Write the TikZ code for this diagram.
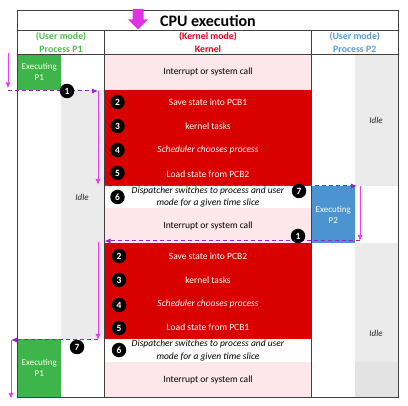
\documentclass[tikz,border=0pt]{standalone}
\usepackage{fontspec}
\setmainfont{Carlito}
\usetikzlibrary{arrows.meta}

\definecolor{kred}{HTML}{D90000}
\definecolor{kpink}{HTML}{FDE7EA}
\definecolor{pgreen}{HTML}{3DB54A}
\definecolor{pblue}{HTML}{4B93D1}
\definecolor{idlegrey}{HTML}{EBEBEB}
\definecolor{idledark}{HTML}{E3E3E3}
\definecolor{hgreen}{HTML}{4CC04C}
\definecolor{hred}{HTML}{E8001C}
\definecolor{hblue}{HTML}{5B9BD5}
\definecolor{amag}{HTML}{F03CF0}
\definecolor{dpurple}{HTML}{9A22C2}
\definecolor{gridc}{HTML}{404040}

\begin{document}
\begin{tikzpicture}[x=1pt,y=-1pt,
    every node/.style={font=\fontsize{9.5}{12.3}\selectfont,inner sep=0pt,align=center},
    head/.style={font=\bfseries\fontsize{9.8}{12.3}\selectfont},
    ktext/.style={text=white},
    exec/.style={text=white!90!yellow,font=\fontsize{9}{10.5}\selectfont},
    idle/.style={font=\itshape\fontsize{9}{10}\selectfont,text=black!85},
    numdot/.style={circle,fill=black,text=white,minimum size=14.5pt,
        font=\bfseries\fontsize{9.5}{9.5}\selectfont},
    flow/.style={amag,line width=1pt,-{Latex[length=6pt,width=5pt]}},
    hop/.style={dpurple,line width=1pt,dash pattern=on 4pt off 3pt,
        -{Latex[length=6pt,width=5pt]}}]

\useasboundingbox (0,0) rectangle (408,406);

% kernel column
\fill[kpink] (104.5,54) rectangle (311.5,90);
\fill[kred] (104.5,90) rectangle (311.5,186);
\fill[kpink] (104.5,208) rectangle (311.5,243);
\fill[kred] (104.5,243) rectangle (311.5,339);
\fill[kpink] (104.5,362) rectangle (311.5,397);
% process columns
\fill[idlegrey] (61,90) rectangle (104.5,339);
\fill[idlegrey] (355,54) rectangle (398,186);
\fill[idlegrey] (355,243) rectangle (398,362);
\fill[idledark] (355,362) rectangle (398,397);
\fill[pgreen] (17.5,54) rectangle (61,90);
\fill[pgreen] (17.5,339) rectangle (61,397);
\fill[pblue] (311.5,186) rectangle (355,243);

% grid
\draw[gridc,line width=0.8pt] (17.5,10) rectangle (398,397);
\draw[gridc,line width=0.8pt] (17.5,30) -- (398,30) (17.5,54) -- (398,54)
    (104.5,30) -- (104.5,397) (311.5,30) -- (311.5,397);

% title
\fill[amag!85!violet] (132.5,9) -- (143.5,9) -- (143.5,19.5) -- (148,19.5)
    -- (138,29.5) -- (128,19.5) -- (132.5,19.5) -- cycle;
\node (title) at (208,20.5) {\bfseries\fontsize{16}{16}\selectfont CPU execution};
\node[head,text=hgreen] (hp1) at (61,42.5) {(User mode)\\Process P1};
\node[head,text=hred] (hkern) at (208,42.5) {(Kernel mode)\\Kernel};
\node[head,text=hblue] (hp2) at (354.75,42.5) {(User mode)\\Process P2};

% process cells
\node[exec] (execA) at (39.25,72) {Executing\\P1};
\node[exec] (execB) at (333.25,215) {Executing\\P2};
\node[exec] (execC) at (39.25,368) {Executing\\P1};
\node[idle] (idleA) at (82,197) {Idle};
\node[idle] (idleB) at (376,120) {Idle};
\node[idle] (idleC) at (376,333) {Idle};

% kernel cells
\node (intA) at (208,72) {Interrupt or system call};
\node[ktext] (saveA) at (208,102) {Save state into PCB1};
\node[ktext] (taskA) at (208,126) {kernel tasks};
\node[ktext] (schedA) at (208,150) {\itshape Scheduler chooses process};
\node[ktext] (loadA) at (208,174) {Load state from PCB2};
\node (dispA) at (208,197) {\itshape Dispatcher switches to process and user\\\itshape mode for a given time slice};
\node (intB) at (208,225.5) {Interrupt or system call};
\node[ktext] (saveB) at (208,256) {Save state into PCB2};
\node[ktext] (taskB) at (208,280) {kernel tasks};
\node[ktext] (schedB) at (208,304) {\itshape Scheduler chooses process};
\node[ktext] (loadB) at (208,327) {Load state from PCB1};
\node (dispB) at (208,350.5) {\itshape Dispatcher switches to process and user\\\itshape mode for a given time slice};
\node (intC) at (208,379.5) {Interrupt or system call};

% control flow
\coordinate (runA) at (8,53);
\coordinate (trapA) at (8,91);
\coordinate (enterA) at (98,91);
\coordinate (leaveA) at (98,185);
\coordinate (kA) at (104.5,186);
\coordinate (startB) at (360,186);
\coordinate (trapB) at (360,241);
\coordinate (kB) at (104.5,241);
\coordinate (enterB) at (98,242);
\coordinate (leaveB) at (98,340);
\coordinate (startC) at (11,340);
\coordinate (runC) at (11,399);
\draw[flow] (runA) -- (8,88.5);
\draw[hop] (trapA) -- (enterA);
\draw[flow] (enterA) -- (leaveA);
\draw[hop] (kA) -- (357,186);
\draw[flow] (startB) -- (trapB);
\draw[hop] (trapB) -- (kB);
\draw[flow] (enterB) -- (leaveB);
\draw[hop] (leaveB) -- (startC);
\draw[flow] (startC) -- (runC);

% steps
\node[numdot] (oneA) at (67,91) {1};
\node[numdot] (twoA) at (117.5,102) {2};
\node[numdot] (threeA) at (117.5,126) {3};
\node[numdot] (fourA) at (117.5,150) {4};
\node[numdot] (fiveA) at (117.5,173) {5};
\node[numdot] (sixA) at (117.5,197) {6};
\node[numdot] (sevenA) at (299,191) {7};
\node[numdot] (oneB) at (298,236) {1};
\node[numdot] (twoB) at (119,256) {2};
\node[numdot] (threeB) at (119,280) {3};
\node[numdot] (fourB) at (119,305) {4};
\node[numdot] (fiveB) at (119,328) {5};
\node[numdot] (sixB) at (119,350) {6};
\node[numdot] (sevenB) at (77,347) {7};

\end{tikzpicture}
\end{document}
